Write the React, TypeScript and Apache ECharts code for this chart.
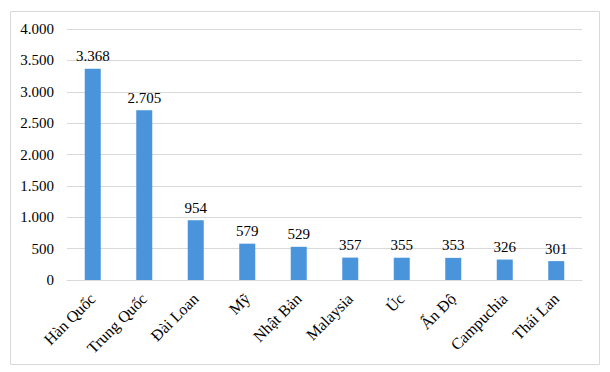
import React, { useEffect, useRef } from "react";
import * as echarts from "echarts";

const categories = ["Hàn Quốc", "Trung Quốc", "Đài Loan", "Mỹ", "Nhật Bản", "Malaysia", "Úc", "Ấn Độ", "Campuchia", "Thái Lan"];
const values = [3368, 2705, 954, 579, 529, 357, 355, 353, 326, 301];
const yMin = 0;
const yMax = 4000;
const yInterval = 500;

const fmt = (v: number) => String(v).replace(/\B(?=(\d{3})+(?!\d))/g, ".");
const FONT = "Times New Roman, serif";

export default function App() {
  const ref = useRef<HTMLDivElement>(null);
  useEffect(() => {
    if (!ref.current) return;
    const chart = echarts.init(ref.current, undefined, { renderer: "svg" });
    chart.setOption({
      animation: false,
      backgroundColor: "#ffffff",
      textStyle: { fontFamily: FONT },
      graphic: [
        {
          type: "rect",
          shape: { x: 10.5, y: 11.5, width: 589, height: 353 },
          style: { fill: "none", stroke: "#d9d9d9", lineWidth: 1 },
          silent: true,
        },
      ],
      grid: { left: 67, right: 28, top: 29, bottom: 92, containLabel: false },
      xAxis: {
        type: "category",
        data: categories,
        axisLine: { show: true, lineStyle: { color: "#d9d9d9" } },
        axisTick: { show: false },
        axisLabel: {
          rotate: 45,
          interval: 0,
          margin: 16,
          color: "#000",
          fontSize: 16,
          fontFamily: FONT,
        },
      },
      yAxis: {
        type: "value",
        min: yMin,
        max: yMax,
        interval: yInterval,
        axisLine: { show: false },
        axisTick: { show: false },
        splitLine: { lineStyle: { color: "#d9d9d9" } },
        axisLabel: {
          color: "#000",
          fontSize: 15,
          margin: 13,
          fontFamily: FONT,
          formatter: (v: number) => fmt(v),
        },
      },
      series: [
        {
          type: "bar",
          data: values,
          barWidth: 16,
          itemStyle: { color: "#4A94DC" },
          label: {
            show: true,
            position: "top",
            distance: 5,
            color: "#000",
            fontSize: 15,
            fontFamily: FONT,
            formatter: (p: any) => fmt(p.value),
          },
        },
      ],
    });
    return () => chart.dispose();
  }, []);
  return (
    <div
      ref={ref}
      style={{ position: "absolute", left: 0, top: 0, width: 610, height: 372 }}
    />
  );
}
